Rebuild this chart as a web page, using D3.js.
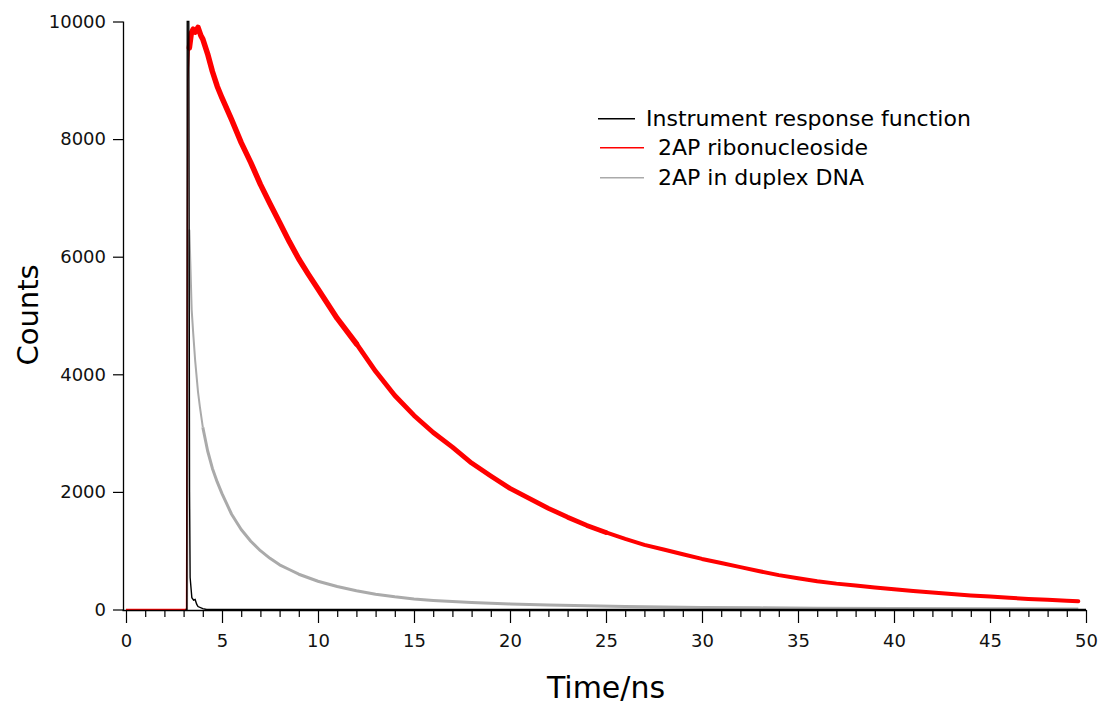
<!DOCTYPE html>
<html>
<head>
<meta charset="utf-8">
<script src="https://cdn.jsdelivr.net/npm/d3@7"></script>
<style>
  body { margin: 0; background: #fff; }
  svg { font-family: "DejaVu Sans", sans-serif; }
</style>
</head>
<body>
<script>
var w = 1102;
var h = 707;

// Instrument response function (time in ns, counts)
var irfTime   = [3.1, 3.17, 3.19, 3.27, 3.31, 3.34, 3.43, 3.52, 3.6, 3.68, 3.75, 4.0, 4.2, 50];
var irfCounts = [0,   0,    10000, 10000, 2000, 545, 200, 160, 170, 90, 50, 15, 0, 0];

// 2AP ribonucleoside
var riboTime = [0, 3.15, 3.22, 3.3, 3.4, 3.5, 3.6, 3.75, 3.9, 4.0, 4.25, 4.5, 4.75, 5.0,
  5.5, 6.0, 6.5, 7.0, 7.5, 8.0, 8.5, 9.0, 9.5, 10, 11, 12, 13, 14, 15, 16, 17, 18, 19, 20,
  21, 22, 23, 24, 25, 26, 27, 28, 29, 30, 31, 32, 33, 34, 35, 36, 37, 38, 39, 40,
  41, 42, 43, 44, 45, 46, 47, 48, 49, 49.6];
var riboCounts = [0, 0, 9000, 9550, 9800, 9870, 9820, 9900, 9760, 9700, 9450, 9150, 8900, 8700,
  8330, 7940, 7600, 7230, 6900, 6580, 6260, 5960, 5700, 5450, 4950, 4520, 4050, 3640, 3300, 3010, 2760, 2490, 2270, 2060,
  1890, 1720, 1570, 1430, 1310, 1200, 1100, 1020, 940, 860, 790, 720, 650, 585, 530, 480, 440, 410, 375, 345,
  315, 290, 265, 240, 220, 200, 180, 165, 150, 140];

// 2AP in duplex DNA
var dnaTime = [3.1, 3.18, 3.25, 3.3, 3.35, 3.42, 3.5, 3.6, 3.75, 3.85, 4.0, 4.25, 4.5, 4.75, 5.0,
  5.5, 6.0, 6.5, 7.0, 7.5, 8.0, 8.5, 9.0, 9.5, 10, 11, 12, 13, 14, 15, 16, 17, 18, 19, 20,
  22, 24, 26, 28, 30, 33, 36, 40, 45, 49.6];
var dnaCounts = [0, 0, 5000, 6450, 5900, 5100, 4700, 4240, 3700, 3440, 3100, 2700, 2400, 2170, 1970,
  1620, 1360, 1160, 1000, 870, 760, 680, 600, 540, 480, 390, 320, 260, 215, 180, 155, 135, 120, 105, 95,
  75, 62, 50, 42, 35, 28, 22, 16, 12, 10];

var xTicks = [0, 5, 10, 15, 20, 25, 30, 35, 40, 45, 50];
var yTicks = [0, 2000, 4000, 6000, 8000, 10000];

var legendLabels = ["Instrument response function", "2AP ribonucleoside", "2AP in duplex DNA"];
var legendColors = ["#000000", "#ff0000", "#aaaaaa"];

function zip(ts, cs) {
  return ts.map(function(t, i) { return { t: t, c: cs[i] }; });
}
var irf = zip(irfTime, irfCounts);
var ribo = zip(riboTime, riboCounts);
var dna = zip(dnaTime, dnaCounts);

var svg = d3.select("body")
  .append("svg")
  .attr("width", w)
  .attr("height", h);

var x = d3.scaleLinear().domain([0, 50]).range([126, 1086]);
var y = d3.scaleLinear().domain([0, 10000]).range([609.5, 21.5]);

var line = d3.line()
  .x(function(d) { return x(d.t); })
  .y(function(d) { return y(d.c); });

function between(data, a, b) {
  return data.filter(function(d) { return d.t >= a && d.t <= b; });
}

// grey curve
svg.append("path")
  .attr("d", line(between(dna, 0, 4)))
  .attr("fill", "none")
  .attr("stroke", "#aaaaaa")
  .attr("stroke-width", 2)
  .attr("stroke-linejoin", "round");
svg.append("path")
  .attr("d", line(between(dna, 4, 50)))
  .attr("fill", "none")
  .attr("stroke", "#aaaaaa")
  .attr("stroke-width", 3)
  .attr("stroke-linejoin", "round");

// red: thin for the baseline and rise, a noisy band (thicker) for the decay
svg.append("path")
  .attr("d", line(between(ribo, 0, 3.3)))
  .attr("fill", "none")
  .attr("stroke", "#ff0000")
  .attr("stroke-width", 1.3);

var redBands = [[3.3, 12, 5.5], [12, 25, 4.8], [25, 50, 4]];
redBands.forEach(function(b) {
  svg.append("path")
    .attr("d", line(between(ribo, b[0], b[1])))
    .attr("fill", "none")
    .attr("stroke", "#ff0000")
    .attr("stroke-width", b[2])
    .attr("stroke-linejoin", "round")
    .attr("stroke-linecap", "round");
});

svg.append("path")
  .attr("d", line(irf))
  .attr("fill", "none")
  .attr("stroke", "#000000")
  .attr("stroke-width", 1.4);

// x axis
var xAxisG = svg.append("g").attr("transform", "translate(0,610)");
xAxisG.call(d3.axisBottom(x).tickValues(xTicks).tickSize(13).tickPadding(11).tickFormat(d3.format("d")));
xAxisG.append("g").call(d3.axisBottom(x)
  .tickValues(d3.range(0, 51).filter(function(v) { return v % 5 !== 0; }))
  .tickSize(7).tickFormat(""));
xAxisG.selectAll(".domain").remove();
svg.append("line")
  .attr("x1", 122.5).attr("x2", x(50) + 0.5)
  .attr("y1", 610.5).attr("y2", 610.5)
  .attr("stroke", "#000").attr("stroke-width", 1.3);

// y axis
var yAxisG = svg.append("g").attr("transform", "translate(123,0)");
yAxisG.call(d3.axisLeft(y).tickValues(yTicks).tickSize(10).tickPadding(7).tickFormat(d3.format("d")));
yAxisG.selectAll(".domain").remove();
svg.append("line")
  .attr("x1", 123.5).attr("x2", 123.5)
  .attr("y1", y(10000)).attr("y2", 611)
  .attr("stroke", "#000").attr("stroke-width", 1.3);

svg.selectAll(".tick line").attr("stroke", "#000").attr("stroke-width", 1.2);
svg.selectAll(".tick text")
  .attr("fill", "#111")
  .style("font-family", "DejaVu Sans, sans-serif")
  .style("font-size", "18px");

// axis titles
svg.append("text")
  .attr("transform", "translate(38,315) rotate(-90)")
  .attr("text-anchor", "middle")
  .style("font-size", "29px")
  .attr("fill", "#000")
  .text("Counts");

svg.append("text")
  .attr("x", 606)
  .attr("y", 698)
  .attr("text-anchor", "middle")
  .style("font-size", "30px")
  .attr("fill", "#000")
  .text("Time/ns");

// legend
var legendLineX1 = [598, 600, 600];
var legendLineX2 = [635, 644, 644];
var legendTextX = [646, 658, 658];
var legendY = [118, 147, 177];

var legend = svg.append("g");
legendLabels.forEach(function(label, i) {
  legend.append("rect")
    .attr("x", legendLineX1[i])
    .attr("y", legendY[i])
    .attr("width", legendLineX2[i] - legendLineX1[i])
    .attr("height", 1.5)
    .attr("fill", legendColors[i]);
  legend.append("text")
    .attr("x", legendTextX[i])
    .attr("y", legendY[i] + 8)
    .style("font-size", "22px")
    .attr("fill", "#000")
    .text(label);
});
</script>
</body>
</html>
